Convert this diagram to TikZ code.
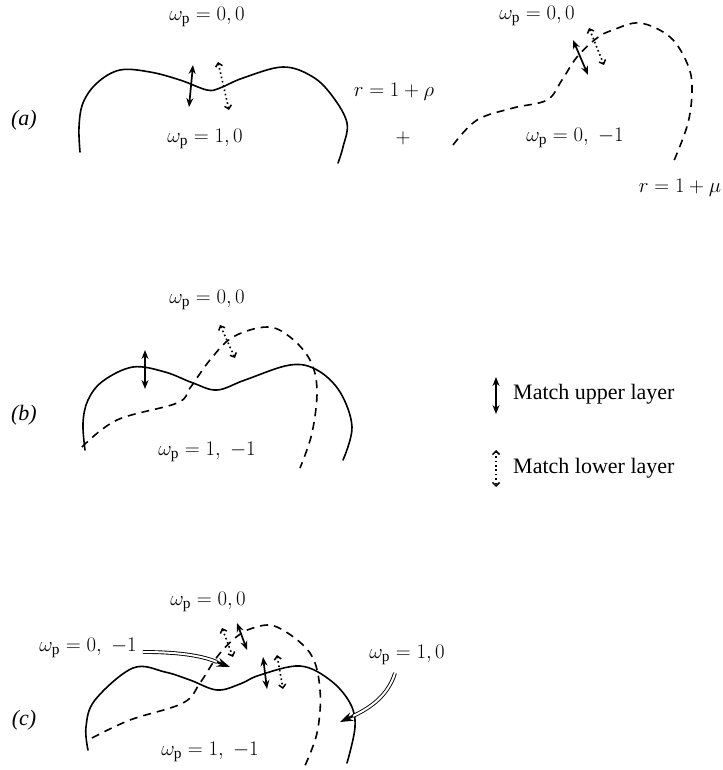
\documentclass[tikz,border=0pt]{standalone}
\usepackage{fontspec}
\setmainfont{Liberation Serif}
\setmathrm{Liberation Serif}
\usetikzlibrary{arrows.meta}
\begin{document}
\begin{tikzpicture}[x=1pt,y=-1pt,
  lbl/.style={font=\fontsize{22}{26}\selectfont, inner sep=0pt},
  curve/.style={line width=1.6pt, line cap=round},
  dcurve/.style={line width=1.6pt, dash pattern=on 8pt off 6pt},
  up/.style={line width=1.7pt, {Stealth[length=9pt,width=7pt]}-{Stealth[length=9pt,width=7pt]}},
  lo/.style={line width=1.6pt, dash pattern=on 1.6pt off 2.8pt, {Straight Barb[length=3.5pt,width=7pt,line width=1.5pt]}-{Straight Barb[length=3.5pt,width=7pt,line width=1.5pt]}},
  dbl/.style={double, double distance=2pt, line width=0.9pt},
  tip/.style={line width=2.4pt, -{Stealth[length=13pt,width=9pt]}}
]
\useasboundingbox (0,0) rectangle (722,770);

% ---------- panel (a) ----------
\node[lbl] (alab) at (24,120) {\itshape (a)};
\node[lbl] (a00) at (207,17) {$\omega_{\mathrm{p}} = 0, 0$};
\node[lbl] (a10) at (205,139) {$\omega_{\mathrm{p}} = 1, 0$};
\node[lbl] (rrho) at (394,92) {$r = 1+\rho$};
\node[lbl] (plus) at (403,138) {$+$};
\node[lbl] (ar00) at (537,16) {$\omega_{\mathrm{p}} = 0, 0$};
\node[lbl] (ar0m1) at (575,138) {$\omega_{\mathrm{p}} = 0,\;-1$};
\node[lbl] (rmu) at (680,188) {$r = 1+\mu$};

\draw[curve] plot[smooth,tension=0.6] coordinates {(80,152) (79,127) (83,103) (97,83) (120,70) (150,72) (180,80) (207,90) (220,88) (243,78) (283,67) (313,77) (333,97) (347,123) (343,147) (338,163)};
\draw[dcurve] plot[smooth,tension=0.6] coordinates {(453,145) (477,120) (513,108) (547,100) (562,80) (577,57) (597,38) (613,30) (640,23) (670,37) (687,63) (692,87) (688,123) (673,163)};

\coordinate (au1) at (193,65); \coordinate (au2) at (189,107);
\draw[up] (au1) -- (au2);
\coordinate (al1) at (218,62); \coordinate (al2) at (229,110);
\draw[lo] (al1) -- (al2);
\coordinate (bu1) at (573,40); \coordinate (bu2) at (588,75);
\draw[up] (bu1) -- (bu2);
\coordinate (bl1) at (589,28); \coordinate (bl2) at (604,65);
\draw[lo] (bl1) -- (bl2);

% ---------- panel (b) ----------
\node[lbl] (blab) at (24,415) {\itshape (b)};
\node[lbl] (b00) at (207,300) {$\omega_{\mathrm{p}} = 0, 0$};
\node[lbl] (b1m1) at (207,452) {$\omega_{\mathrm{p}} = 1,\;-1$};

\draw[curve] plot[smooth,tension=0.6] coordinates {(85,450) (83,423) (88,400) (103,381) (133,367) (165,372) (193,383) (217,390) (245,380) (290,365) (317,370) (340,392) (352,427) (343,460)};
\draw[dcurve] plot[smooth,tension=0.6] coordinates {(82,447) (117,420) (177,403) (190,388) (210,360) (233,337) (267,327) (290,337) (310,360) (317,390) (312,433) (300,468)};

\coordinate (cu1) at (145,350); \coordinate (cu2) at (145,389);
\draw[up] (cu1) -- (cu2);
\coordinate (cl1) at (220,325); \coordinate (cl2) at (235,358);
\draw[lo] (cl1) -- (cl2);

% ---------- legend ----------
\coordinate (gu1) at (496,377); \coordinate (gu2) at (496,414);
\draw[up] (gu1) -- (gu2);
\node[lbl, anchor=west] (gut) at (513,394) {Match upper layer};
\coordinate (gl1) at (496,450); \coordinate (gl2) at (496,487);
\draw[lo] (gl1) -- (gl2);
\node[lbl, anchor=west] (glt) at (513,468) {Match lower layer};

% ---------- panel (c) ----------
\node[lbl] (clab) at (24,720) {\itshape (c)};
\node[lbl] (c00) at (208,602) {$\omega_{\mathrm{p}} = 0, 0$};
\node[lbl] (c0m1) at (88,648) {$\omega_{\mathrm{p}} = 0,\;-1$};
\node[lbl] (c10) at (407,655) {$\omega_{\mathrm{p}} = 1, 0$};
\node[lbl] (c1m1) at (210,752) {$\omega_{\mathrm{p}} = 1,\;-1$};

\draw[curve] plot[smooth,tension=0.6] coordinates {(88,750) (86,727) (95,700) (133,668) (165,672) (190,680) (217,690) (240,684) (260,675) (300,666) (330,680) (350,703) (355,727) (347,763)};
\draw[dcurve] plot[smooth,tension=0.6] coordinates {(92,738) (130,720) (183,703) (200,683) (217,657) (235,638) (253,628) (277,627) (310,653) (320,690) (317,733) (303,770)};

\coordinate (du1) at (237,623); \coordinate (du2) at (247,650);
\draw[up] (du1) -- (du2);
\coordinate (dl1) at (222,628); \coordinate (dl2) at (233,657);
\draw[lo] (dl1) -- (dl2);
\coordinate (eu1) at (263,657); \coordinate (eu2) at (267,689);
\draw[up] (eu1) -- (eu2);
\coordinate (el1) at (277,655); \coordinate (el2) at (283,689);
\draw[lo] (el1) -- (el2);

% double-line pointers
\coordinate (s1) at ([xshift=6pt,yshift=-4pt]c0m1.east);
\coordinate (t1) at (230,667);
\coordinate (k1) at (217,662);
\draw[dbl] (s1) .. controls (185,652) and (205,657) .. (k1);
\draw[tip] (k1) -- (t1);
\coordinate (s2) at ([xshift=-12pt,yshift=-8pt]c10.south);
\coordinate (t2) at (340,722);
\coordinate (k2) at (353,716);
\draw[dbl] (s2) .. controls (388,695) and (372,707) .. (k2);
\draw[tip] (k2) -- (t2);
\end{tikzpicture}
\end{document}
